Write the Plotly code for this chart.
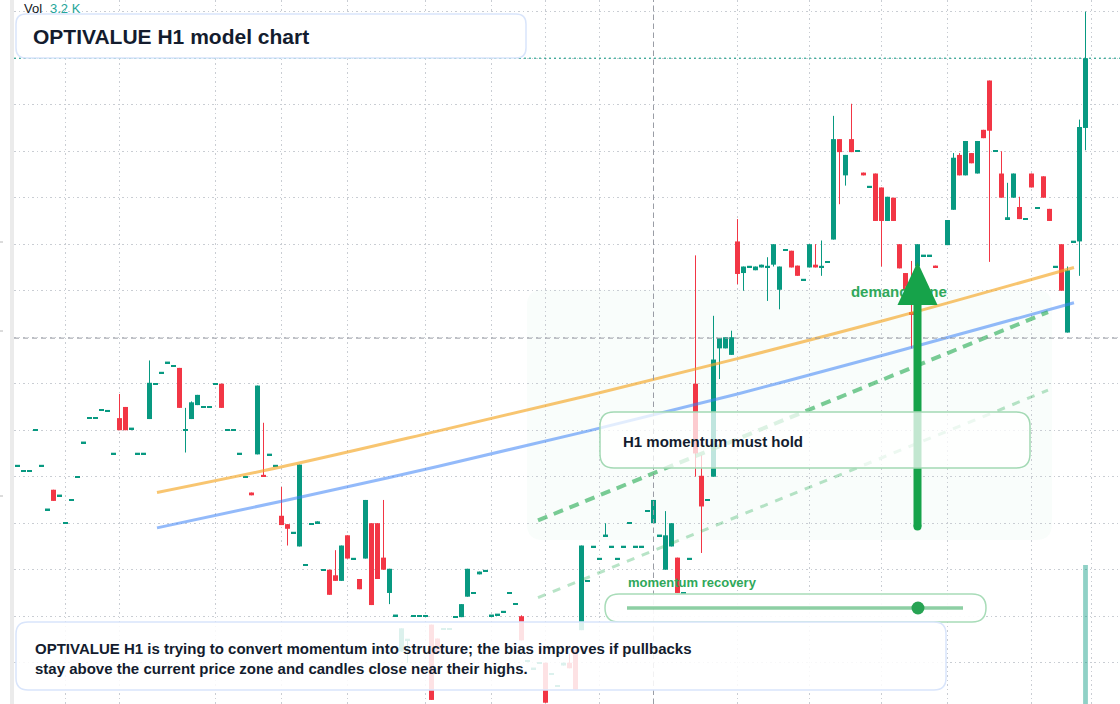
import plotly.graph_objects as go

W, H = 1120, 704

# ---------------- data ----------------
opens = [26.12, 26.06, 26.06, 26.50, 26.12, 25.65, 25.86, 25.80, 25.50, 25.75,
         26.00, 26.37, 26.63, 26.63, 26.72, 26.71, 26.25, 26.63, 26.75, 26.52,
         26.25, 26.25, 26.62, 27.00, 27.12, 27.23, 27.19, 27.17, 26.50, 26.62,
         26.77, 26.75, 26.75, 27.00, 27.00, 26.50, 26.50, 26.25, 26.00, 25.83,
         26.24, 26.02, 26.24, 26.12, 25.58, 25.49, 25.40, 25.25, 25.05, 25.49,
         25.50, 25.00, 25.00, 24.94, 24.88, 25.37, 25.12, 24.90, 25.12, 25.50,
         25.50, 25.13, 24.75, 24.51, 24.12, 24.25, 24.50, 24.50, 24.50, 24.41,
         24.26, 24.36, 24.36, 24.49, 24.49, 24.71, 24.75, 24.95, 24.99, 24.51,
         24.52, 24.55, 24.75, 24.63, 24.50, 24.02, 23.94, 24.00, 24.00, 23.88,
         23.75, 23.97, 24.00, 24.14, 24.35, 24.88, 25.25, 25.12, 25.37, 25.25,
         25.12, 25.25, 25.50, 25.25, 25.25, 25.63, 25.50, 25.37, 25.00, 25.25,
         25.13, 24.75, 25.12, 27.00, 26.01, 25.75, 26.00, 27.38, 27.38, 27.31,
         28.53, 28.19, 28.26, 28.22, 28.25, 28.26, 28.28, 28.01, 28.44, 28.43,
         28.27, 28.12, 28.25, 28.28, 28.26, 28.31, 28.55, 29.63, 29.24, 29.63,
         29.50, 29.27, 29.12, 29.26, 29.11, 28.75, 29.00, 28.50, 28.19, 27.77,
         28.26, 28.38, 28.38, 28.27, None, 28.49, 28.87, 29.46, 29.24, 29.48,
         29.26, 29.73, 30.26, 29.50, 29.26, 28.76, 29.00, 28.90, 28.77, 29.26,
         28.89, 29.23, 28.88, 28.26, 28.50, 27.55, 28.53, 28.53, 29.75]
highs = [26.12, 26.06, 26.06, 26.50, 26.12, 25.65, 25.86, 25.80, 25.50, 25.75,
         26.00, 26.37, 26.63, 26.63, 26.72, 26.71, 26.25, 26.89, 26.75, 26.52,
         26.25, 26.25, 27.25, 27.00, 27.12, 27.23, 27.19, 27.17, 26.74, 26.81,
         26.88, 26.75, 26.75, 27.00, 27.00, 26.50, 26.50, 26.25, 26.00, 25.83,
         26.98, 26.58, 26.24, 26.12, 25.89, 25.49, 25.40, 26.13, 25.05, 25.49,
         25.52, 25.00, 25.00, 25.21, 25.26, 25.37, 25.12, 24.90, 25.75, 25.50,
         25.50, 25.75, 25.01, 24.51, 24.37, 24.25, 24.50, 24.50, 24.50, 24.41,
         24.26, 24.36, 24.36, 24.49, 24.63, 25.01, 24.75, 24.98, 24.99, 24.51,
         24.52, 24.55, 24.75, 24.63, 24.51, 24.02, 23.94, 24.00, 24.00, 23.88,
         23.75, 24.00, 24.10, 24.14, 25.26, 24.88, 25.25, 25.12, 25.50, 25.25,
         25.12, 25.25, 25.50, 25.25, 25.25, 25.63, 25.75, 25.37, 25.63, 25.50,
         25.13, 24.75, 25.12, 28.38, 26.23, 25.75, 27.73, 27.49, 27.50, 27.57,
         28.77, 28.26, 28.26, 28.26, 28.28, 28.36, 28.50, 28.26, 28.44, 28.43,
         28.27, 28.12, 28.50, 28.50, 28.54, 28.31, 29.88, 29.63, 29.46, 30.01,
         29.50, 29.27, 29.12, 29.26, 29.11, 29.01, 29.00, 28.50, 28.19, 28.32,
         28.50, 28.38, 28.38, 28.27, None, 28.76, 29.48, 29.48, 29.61, 29.48,
         29.61, 29.73, 30.26, 29.50, 29.50, 29.16, 29.26, 29.01, 28.77, 29.26,
         28.89, 29.23, 28.88, 28.26, 28.50, 28.26, 28.53, 29.84, 31.00]
lows = [26.12, 26.06, 26.06, 26.50, 26.12, 25.65, 25.74, 25.80, 25.50, 25.75,
        26.00, 26.37, 26.63, 26.63, 26.72, 26.71, 26.25, 26.50, 26.50, 26.52,
        26.25, 26.25, 26.62, 27.00, 27.12, 27.23, 27.19, 26.74, 26.26, 26.62,
        26.77, 26.75, 26.75, 27.00, 26.74, 26.50, 26.50, 26.25, 26.00, 25.80,
        26.24, 26.00, 26.24, 26.12, 25.48, 25.26, 25.40, 25.25, 25.05, 25.49,
        25.50, 25.00, 24.73, 24.88, 24.88, 25.12, 25.12, 24.79, 25.12, 24.62,
        24.90, 25.00, 24.63, 24.51, 24.12, 24.00, 24.50, 24.50, 24.50, 23.60,
        24.10, 24.36, 24.36, 24.49, 24.49, 24.71, 24.75, 24.95, 24.99, 24.51,
        24.52, 24.55, 24.75, 24.63, 24.24, 24.02, 23.94, 24.00, 23.57, 23.88,
        23.75, 23.97, 23.94, 23.71, 24.35, 24.88, 25.25, 25.12, 25.37, 25.25,
        25.12, 25.25, 25.50, 25.25, 25.25, 25.63, 25.50, 25.37, 25.00, 25.25,
        24.75, 24.75, 25.12, 26.00, 25.18, 25.75, 26.00, 27.05, 27.38, 27.31,
        28.07, 28.00, 28.26, 28.22, 28.25, 27.89, 28.26, 27.80, 28.44, 28.25,
        28.16, 28.12, 28.25, 28.25, 28.16, 28.31, 28.55, 28.93, 29.13, 29.49,
        29.50, 29.24, 29.12, 28.75, 28.26, 28.75, 28.75, 28.24, 28.01, 27.38,
        28.26, 28.38, 28.38, 28.25, None, 28.49, 28.87, 29.24, 29.24, 29.37,
        29.26, 29.64, 28.31, 29.50, 29.00, 28.76, 29.00, 28.77, 28.77, 29.11,
        28.89, 29.00, 28.75, 28.26, 28.00, 27.55, 28.53, 28.16, 29.51]
closes = [26.12, 26.06, 26.06, 26.50, 26.12, 25.65, 25.74, 25.80, 25.50, 25.75,
          26.00, 26.37, 26.63, 26.63, 26.72, 26.71, 26.25, 26.50, 26.50, 26.52,
          26.25, 26.25, 27.01, 27.00, 27.12, 27.23, 27.19, 26.74, 26.50, 26.80,
          26.88, 26.75, 26.75, 27.00, 26.74, 26.50, 26.50, 26.25, 26.00, 25.80,
          26.98, 26.00, 26.24, 26.12, 25.48, 25.44, 25.40, 26.13, 25.05, 25.49,
          25.52, 25.00, 24.73, 24.88, 25.26, 25.12, 25.12, 24.79, 25.75, 24.62,
          24.90, 25.00, 25.01, 24.51, 24.37, 24.25, 24.50, 24.50, 24.50, 23.60,
          24.10, 24.36, 24.36, 24.49, 24.63, 25.01, 24.75, 24.98, 24.99, 24.51,
          24.52, 24.55, 24.75, 24.63, 24.24, 24.02, 23.94, 24.00, 23.57, 23.88,
          23.75, 24.00, 23.94, 23.71, 25.26, 24.88, 25.25, 25.12, 25.37, 25.25,
          25.12, 25.25, 25.50, 25.25, 25.25, 25.63, 25.75, 25.37, 25.37, 25.50,
          24.75, 24.75, 25.12, 26.25, 25.68, 25.75, 27.26, 27.49, 27.50, 27.50,
          28.18, 28.26, 28.26, 28.26, 28.28, 28.26, 28.50, 28.26, 28.44, 28.25,
          28.16, 28.12, 28.50, 28.25, 28.26, 28.31, 29.63, 29.49, 29.46, 29.49,
          29.50, 29.24, 29.12, 28.75, 28.75, 29.01, 28.75, 28.24, 28.01, 27.74,
          28.50, 28.38, 28.38, 28.25, None, 28.76, 29.43, 29.24, 29.61, 29.37,
          29.61, 29.64, 29.72, 29.50, 29.00, 28.79, 29.26, 28.77, 28.77, 29.11,
          28.89, 29.00, 28.75, 28.26, 28.00, 28.22, 28.53, 29.76, 30.50]

volume_index = [178]
volumes = [3200]

time_ticks = [8, 17, 33, 44, 55, 68, 79, 88, 97, 106, 120, 132, 144, 155, 169, 179]
price_ticks = [24.0, 24.5, 25.0, 25.5, 26.0, 26.5, 27.0, 27.5, 28.0, 28.5,
               29.0, 29.5, 30.0, 30.5, 31.0]

trend_x = [23.25, 45, 70, 95, 120, 145, 176.08]
trend_fast = [25.83, 26.12, 26.49, 26.87, 27.27, 27.69, 28.25]
trend_slow = [25.45, 25.75, 26.11, 26.49, 26.89, 27.32, 27.87]

support_x = [86.75, 171.75]
support_main = [25.53, 27.77]
support_lower = [24.70, 26.93]

demand_zone_x = [84.9, 172.4]
demand_zone_price = [25.32, 28.01]
demand_label_x, demand_label_price = 138.9, 27.975

arrow_index = 150
arrow_from, arrow_to = 25.465, 28.309

crosshair_index = 106
crosshair_price = 27.49
momentum_score = 0.866

# ---------------- styling ----------------
TEAL, RED = "#089981", "#f23645"
FONT = "Liberation Sans, Arial, sans-serif"
DARK = "#131c2e"
GREEN_TXT = "#2fa85a"
GRID = "#c9cdd3"
X_RANGE = [-0.5833, 183.75]
Y_RANGE = [23.5561, 31.1258]
PX_PER_X = 6.0
PX_PER_Y = 93.0


def rrect_path(l, r, b, t, rx, ry):
    f = lambda v: f"{v:.6f}"
    return (f"M{f(l+rx)},{f(t)} L{f(r-rx)},{f(t)} Q{f(r)},{f(t)} {f(r)},{f(t-ry)} "
            f"L{f(r)},{f(b+ry)} Q{f(r)},{f(b)} {f(r-rx)},{f(b)} L{f(l+rx)},{f(b)} "
            f"Q{f(l)},{f(b)} {f(l)},{f(b+ry)} L{f(l)},{f(t-ry)} Q{f(l)},{f(t)} {f(l+rx)},{f(t)} Z")


def px_box(x0, y0, x1, y1, rad):
    return rrect_path(x0 / W, x1 / W, 1 - y1 / H, 1 - y0 / H, rad / W, rad / H)


fig = go.Figure()

# candles: wicks + bodies
MIN_BODY = 0.016
bx, bbase, bh, bcol = [], [], [], []
wx = {TEAL: [], RED: []}
wy = {TEAL: [], RED: []}
for i, (o, h, l, c) in enumerate(zip(opens, highs, lows, closes)):
    if o is None:
        continue
    col = TEAL if c >= o else RED
    lo, hi = min(o, c), max(o, c)
    if hi - lo < MIN_BODY:
        mid = (hi + lo) / 2
        lo, hi = mid - MIN_BODY / 2, mid + MIN_BODY / 2
    bx.append(i)
    bbase.append(lo)
    bh.append(hi - lo)
    bcol.append(col)
    if h - l > 0.005:
        wx[col] += [i, i, None]
        wy[col] += [l, h, None]

for col in (TEAL, RED):
    fig.add_trace(go.Scatter(x=wx[col], y=wy[col], mode="lines",
                             line=dict(color=col, width=1), hoverinfo="skip",
                             showlegend=False))
fig.add_trace(go.Bar(x=bx, y=bh, base=bbase, width=0.83,
                     marker=dict(color=bcol, line=dict(width=0)),
                     hoverinfo="skip", showlegend=False))

# volume
fig.add_trace(go.Bar(x=volume_index, y=volumes, yaxis="y2", width=0.8,
                     marker=dict(color="rgba(8,153,129,0.45)", line=dict(width=0)),
                     hoverinfo="skip", showlegend=False))

# trend curves
fig.add_trace(go.Scatter(x=trend_x, y=trend_fast, mode="lines",
                         line=dict(color="rgba(245,166,35,0.65)", width=3, shape="spline"),
                         hoverinfo="skip", showlegend=False))
fig.add_trace(go.Scatter(x=trend_x, y=trend_slow, mode="lines",
                         line=dict(color="rgba(59,130,246,0.55)", width=3, shape="spline"),
                         hoverinfo="skip", showlegend=False))
fig.add_trace(go.Scatter(x=support_x, y=support_main, mode="lines",
                         line=dict(color="rgba(34,170,80,0.6)", width=4, dash="10px,7px"),
                         hoverinfo="skip", showlegend=False))
fig.add_trace(go.Scatter(x=support_x, y=support_lower, mode="lines",
                         line=dict(color="rgba(34,170,80,0.32)", width=3, dash="8px,8px"),
                         hoverinfo="skip", showlegend=False))

# demand zone label (under the arrow)
fig.add_trace(go.Scatter(x=[demand_label_x], y=[demand_label_price], mode="text",
                         text=["demand zone"], textposition="middle right",
                         textfont=dict(family=FONT, size=15, color=GREEN_TXT, weight="bold"),
                         hoverinfo="skip", showlegend=False))

shapes = []
# demand zone
rx, ry = 16 / PX_PER_X, 16 / PX_PER_Y
shapes.append(dict(type="path", xref="x", yref="y", layer="below",
                   path=rrect_path(demand_zone_x[0], demand_zone_x[1],
                                   demand_zone_price[0], demand_zone_price[1], rx, ry),
                   fillcolor="rgba(34,197,94,0.028)", line=dict(width=0)))
# crosshair
shapes.append(dict(type="line", xref="x", yref="paper", x0=crosshair_index, x1=crosshair_index,
                   y0=0, y1=1, line=dict(color="#9a9da5", width=1, dash="5px,4px"), layer="above"))
shapes.append(dict(type="line", xref="paper", yref="y", x0=14 / W, x1=1,
                   y0=crosshair_price, y1=crosshair_price,
                   line=dict(color="#9a9da5", width=1, dash="5px,4px"), layer="above"))
# last price line
shapes.append(dict(type="line", xref="paper", yref="y", x0=14 / W, x1=1,
                   y0=closes[-1], y1=closes[-1],
                   line=dict(color=TEAL, width=1, dash="2px,3px"), layer="above"))
# left strip and clipped axis marks
shapes.append(dict(type="rect", xref="paper", yref="paper", x0=10 / W, x1=14 / W, y0=0, y1=1,
                   fillcolor="#ebebeb", line=dict(width=0), layer="above"))
for yy in (242, 331, 496):
    shapes.append(dict(type="line", xref="paper", yref="paper", x0=0, x1=3 / W,
                       y0=1 - yy / H, y1=1 - yy / H, line=dict(color="#b8b8b8", width=1)))
# arrow
cap = 4
shapes.append(dict(type="line", xref="x", yref="y", x0=arrow_index, x1=arrow_index,
                   y0=arrow_from, y1=arrow_to - 0.4,
                   line=dict(color="#16a34a", width=8), layer="above"))
shapes.append(dict(type="circle", xref="x", yref="y",
                   x0=arrow_index - cap / PX_PER_X, x1=arrow_index + cap / PX_PER_X,
                   y0=arrow_from - cap / PX_PER_Y, y1=arrow_from + cap / PX_PER_Y,
                   fillcolor="#16a34a", line=dict(width=0), layer="above"))
hw, hh = 20 / PX_PER_X, 43 / PX_PER_Y
shapes.append(dict(type="path", xref="x", yref="y", layer="above",
                   path=f"M{arrow_index-hw},{arrow_to-hh} L{arrow_index},{arrow_to} "
                        f"L{arrow_index+hw},{arrow_to-hh} Z",
                   fillcolor="#16a34a", line=dict(width=0)))
# H1 box
shapes.append(dict(type="path", xref="paper", yref="paper", layer="above",
                   path=px_box(600, 412, 1030, 468, 14),
                   fillcolor="rgba(255,255,255,0.74)",
                   line=dict(color="#a3d9b4", width=1.5)))
# momentum pill
shapes.append(dict(type="path", xref="paper", yref="paper", layer="above",
                   path=px_box(605, 594, 986, 622, 14),
                   fillcolor="rgba(255,255,255,0.92)",
                   line=dict(color="#a8dcb8", width=1.5)))
g0, g1, gy = 627, 963, 608
shapes.append(dict(type="line", xref="paper", yref="paper", x0=g0 / W, x1=g1 / W,
                   y0=1 - gy / H, y1=1 - gy / H,
                   line=dict(color="rgba(47,168,90,0.55)", width=3.5), layer="above"))
gx = g0 + momentum_score * (g1 - g0)
r = 6.5
shapes.append(dict(type="circle", xref="paper", yref="paper",
                   x0=(gx - r) / W, x1=(gx + r) / W, y0=1 - (gy + r) / H, y1=1 - (gy - r) / H,
                   fillcolor="#27a353", line=dict(width=0), layer="above"))
# bottom note box
shapes.append(dict(type="path", xref="paper", yref="paper", layer="above",
                   path=px_box(16, 622, 946, 690, 12),
                   fillcolor="rgba(255,255,255,0.86)",
                   line=dict(color="#d9e5fb", width=1.5)))
# title box
shapes.append(dict(type="path", xref="paper", yref="paper", layer="above",
                   path=px_box(16, 14, 526, 58, 10),
                   fillcolor="#ffffff", line=dict(color="#d9e5fb", width=1.5)))

annotations = [
    dict(text="<b>OPTIVALUE H1 model chart</b>", x=31 / W, y=1 - 36 / H,
         font=dict(family=FONT, size=21, color=DARK)),
    dict(text="Vol", x=22 / W, y=1 - 8.5 / H, font=dict(family=FONT, size=13, color="#131722")),
    dict(text=f"{volumes[-1] / 1000:.1f} K", x=48 / W, y=1 - 8.5 / H,
         font=dict(family=FONT, size=13, color="#26a69a")),
    dict(text="<b>H1 momentum must hold</b>", x=621 / W, y=1 - 441 / H,
         font=dict(family=FONT, size=15, color=DARK)),
    dict(text="<b>momentum recovery</b>", x=626 / W, y=1 - 582 / H,
         font=dict(family=FONT, size=13, color=GREEN_TXT)),
    dict(text="<b>OPTIVALUE H1 is trying to convert momentum into structure; the bias improves if pullbacks"
              "<br>stay above the current price zone and candles close near their highs.</b>",
         x=33 / W, y=1 - 658 / H, align="left",
         font=dict(family=FONT, size=15, color=DARK)),
]
for a in annotations:
    a.update(xref="paper", yref="paper", xanchor="left", yanchor="middle", showarrow=False)

fig.update_layout(
    width=W, height=H,
    margin=dict(l=0, r=0, t=0, b=0, pad=0),
    paper_bgcolor="#ffffff", plot_bgcolor="#ffffff",
    barmode="overlay", showlegend=False,
    shapes=shapes, annotations=annotations,
    xaxis=dict(domain=[14 / W, 1], range=X_RANGE, tickvals=time_ticks, showticklabels=False,
               showgrid=True, gridcolor=GRID, griddash="1.5px,3px", gridwidth=1,
               zeroline=False, showline=False, ticks="", fixedrange=True),
    yaxis=dict(domain=[0, 1], range=Y_RANGE, tickvals=price_ticks, showticklabels=False,
               showgrid=True, gridcolor=GRID, griddash="1.5px,3px", gridwidth=1,
               zeroline=False, showline=False, ticks="", fixedrange=True),
    yaxis2=dict(overlaying="y", range=[1200, 11331], visible=False, fixedrange=True),
)

fig.write_html("out.html", config={"displayModeBar": False})
